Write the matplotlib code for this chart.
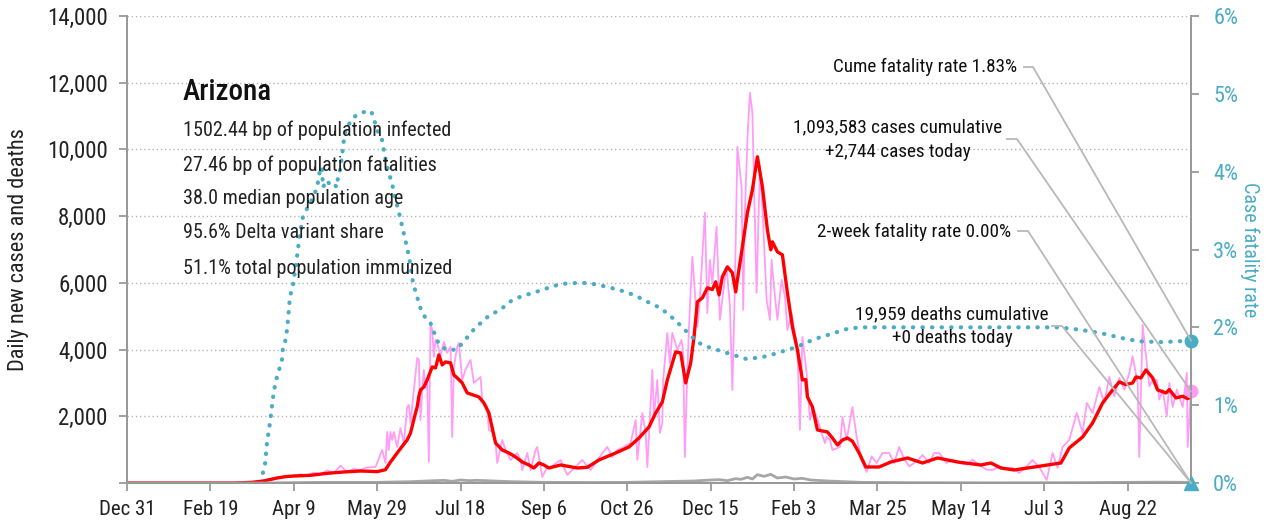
import numpy as np
import matplotlib
matplotlib.use("Agg")
import matplotlib.pyplot as plt
from matplotlib import font_manager
from matplotlib.lines import Line2D

# pick a narrow font if there is one
names = set(f.name for f in font_manager.fontManager.ttflist)
FONT = "DejaVu Sans"
for cand in ["Roboto Condensed", "Archivo Narrow", "PT Sans Narrow", "Barlow Semi Condensed",
             "Liberation Sans Narrow", "Open Sans Condensed"]:
    if cand in names:
        FONT = cand
        break
plt.rcParams["font.family"] = [FONT, "DejaVu Sans"]

W, H = 1268, 523
TEAL = "#4aacc5"
PINK = "#ff9cf5"
RED = "#ff0000"
GRAY = "#a6a6a6"

# days counted from Dec 31 2019
tick_days = [0, 50, 100, 150, 200, 250, 300, 350, 400, 450, 500, 550, 600]
tick_labels = ["Dec 31", "Feb 19", "Apr 9", "May 29", "Jul 18", "Sep 6", "Oct 26",
               "Dec 15", "Feb 3", "Mar 25", "May 14", "Jul 3", "Aug 22"]
last_day = 638

# daily new cases (day, cases)
cases = [(0, 0), (60, 0), (70, 5), (75, 20), (80, 60), (84, 110), (88, 150), (92, 170), (96, 220),
         (100, 200), (104, 260), (108, 230), (112, 310), (116, 260), (120, 380), (124, 300),
         (128, 520), (132, 330), (136, 420), (140, 390), (144, 470), (149, 480), (150, 600),
         (153, 990), (155, 600), (156, 1530), (157, 990), (158, 1530), (159, 1290), (160, 1530),
         (162, 1080), (164, 1650), (166, 1200), (168, 2280), (169, 2340), (170, 1800),
         (172, 2790), (174, 3750), (175, 3690), (176, 1890), (177, 2790), (178, 3390),
         (179, 2850), (180, 3090), (181, 630), (182, 4800), (183, 4590), (184, 3780),
         (185, 4290), (186, 4200), (188, 3800), (190, 4230), (192, 3900), (194, 4080),
         (195, 1380), (196, 3480), (198, 4080), (199, 4200), (201, 3090), (203, 3400),
         (206, 3690), (208, 3000), (212, 3180), (213, 2490), (216, 2280), (217, 1590),
         (219, 1530), (221, 1200), (222, 600), (225, 1290), (227, 990), (230, 690), (234, 900),
         (236, 690), (237, 390), (240, 900), (242, 390), (245, 990), (246, 1080), (249, 180),
         (252, 480), (254, 480), (260, 690), (264, 240), (273, 690), (278, 390), (282, 690),
         (288, 1080), (291, 780), (294, 990), (297, 1050), (302, 1200), (305, 1890), (306, 690),
         (309, 2100), (311, 1500), (312, 480), (315, 3390), (316, 2000), (318, 3090),
         (319.5, 1500), (321, 1800), (321.5, 3090), (324, 4500), (325.5, 3600), (327, 4500),
         (330, 3990), (332.5, 4290), (333.5, 3900), (334.5, 780), (336, 3390), (337.5, 5280),
         (339, 6780), (342, 4680), (343.5, 5520), (346.5, 8100), (348, 5100), (349.5, 6690),
         (351, 6000), (353.5, 7680), (355.5, 4890), (357, 5520), (359.5, 6480), (361.5, 5310),
         (363, 2790), (364.5, 5880), (366, 10080), (368.5, 8880), (369.5, 5190), (370.5, 8100),
         (372, 10290), (373.5, 11700), (375, 11100), (377.5, 5700), (379.5, 9480), (381, 8280),
         (383.5, 5520), (385.5, 4890), (386.5, 6690), (388.5, 5610), (390, 4890), (392.5, 6090),
         (394.5, 5580), (396, 4590), (398.5, 5100), (400.5, 4500), (402, 4080), (403.5, 1590),
         (405, 4380), (407.5, 3300), (409.5, 1890), (411, 2280), (413.5, 2000), (416.5, 1500),
         (418.5, 1200), (419.5, 1380), (421.5, 1290), (423, 990), (427.5, 1080), (429, 1980),
         (431.5, 1290), (435, 2280), (437.5, 1380), (440.5, 690), (443.5, 330), (446.5, 800),
         (449.5, 600), (453, 900), (457, 900), (460, 600), (463, 1080), (466, 720), (469, 500),
         (473.5, 650), (477, 840), (481, 600), (484, 900), (487, 900), (491.5, 600), (495, 700),
         (499, 600), (503.5, 550), (507, 700), (511, 540), (515.5, 400), (519, 390), (523, 500),
         (527.5, 420), (531, 460), (535, 300), (539.5, 500), (543, 690), (547, 480), (551.5, 90),
         (555, 900), (558, 450), (561, 1080), (565, 1290), (569.5, 2100), (573, 1500),
         (575.5, 2400), (579, 2100), (583, 2880), (586, 2400), (589, 3180), (592, 2600),
         (595, 3150), (598, 2800), (601, 3300), (603, 3800), (606, 3000), (607, 780),
         (609, 4740), (611.5, 3600), (613, 2900), (615, 3100), (617.5, 3090), (619, 2500),
         (621, 2790), (623.5, 2000), (625, 3000), (627, 2280), (629.5, 2800), (631, 2580),
         (633, 2280), (635.5, 3300), (636, 1080), (638, 2744)]

# 7-day average of cases
cases_avg = [(0, 0), (65, 0), (75, 20), (82, 60), (90, 150), (95, 190), (100, 210), (110, 230),
             (120, 290), (130, 330), (140, 360), (146, 350), (150, 340), (155, 400), (158, 630),
             (162, 900), (165, 1100), (168, 1290), (170, 1500), (171.5, 1800), (173, 2100),
             (174, 2280), (175, 2600), (176, 2790), (178, 2880), (180, 3090), (183, 3480),
             (185, 3450), (187, 3840), (189, 3540), (191, 3630), (194, 3600), (196, 3240),
             (198, 3150), (201, 3000), (204, 2700), (207, 2650), (211, 2580), (214, 2400),
             (217, 2100), (221, 1200), (225, 990), (229, 900), (233, 780), (237, 630), (241, 540),
             (244, 450), (247, 600), (250, 540), (253, 450), (260, 540), (270, 450), (276, 470),
             (283, 690), (293, 900), (301, 1080), (307, 1350), (313, 1680), (317, 2100),
             (321, 2430), (324, 3090), (327, 3600), (329, 3930), (332, 3900), (335, 3000),
             (338, 3600), (340, 4380), (342, 5430), (345, 5550), (348, 5850), (351, 5800),
             (353, 6030), (355, 5640), (357, 6180), (360, 6480), (363, 6300), (365, 5730),
             (366, 6090), (369, 7080), (372, 8100), (375, 8790), (378, 9780), (381, 8880),
             (384, 7590), (386, 6990), (387, 7230), (390, 6930), (393, 6840), (396, 5700),
             (399, 4680), (402, 3990), (405, 3090), (407, 3100), (408, 2580), (411, 2280),
             (414, 1590), (420, 1530), (423, 1350), (426, 1140), (429, 1290), (432, 1350),
             (435, 1250), (439, 900), (443, 480), (451, 480), (458, 630), (468, 750), (477, 600),
             (486, 750), (498, 630), (512, 540), (518, 600), (524, 450), (532, 390), (544, 480),
             (552, 540), (560, 600), (565, 1050), (573, 1380), (579, 1800), (585, 2400),
             (591, 2790), (595, 3030), (599, 2950), (603, 3000), (605, 3180), (608, 3150),
             (611, 3390), (615, 3150), (618, 2790), (623, 2700), (625, 2800), (629, 2550),
             (633, 2600), (636, 2530), (638, 2580)]

# daily deaths
deaths = [(0, 0), (80, 0), (100, 10), (120, 20), (150, 20), (170, 40), (180, 60), (190, 80),
          (195, 50), (200, 90), (205, 70), (210, 80), (220, 60), (230, 40), (250, 20), (280, 15),
          (300, 20), (320, 40), (340, 60), (350, 90), (355, 100), (360, 70), (365, 130),
          (368, 110), (372, 170), (375, 120), (378, 250), (382, 200), (386, 260), (390, 150),
          (395, 180), (400, 120), (405, 140), (410, 90), (420, 60), (430, 40), (440, 20),
          (470, 10), (520, 5), (570, 10), (600, 20), (620, 25), (637, 20), (638, 0)]

# case fatality rate, percent
cfr = [(81.5, 0.13), (82.7, 0.23), (83.9, 0.51), (85.7, 0.77), (86.9, 0.98), (87.5, 1.09),
       (88.7, 1.25), (89.9, 1.36), (91.7, 1.49), (92.9, 1.58), (93.5, 1.74), (94.7, 1.80),
       (95.9, 1.96), (96.5, 2.09), (97.7, 2.39), (99.5, 2.54), (101.9, 2.90), (103.7, 3.21),
       (105.5, 3.42), (108.5, 3.55), (110.9, 3.64), (113.9, 3.79), (115.7, 4.02), (116.9, 4.06),
       (117.5, 3.80), (119.9, 3.89), (121.7, 3.83), (123.5, 3.85), (125.9, 3.80), (126.5, 3.93),
       (127.7, 4.02), (128.9, 4.19), (129.5, 4.32), (130.7, 4.50), (131.9, 4.57), (133.7, 4.63),
       (135.5, 4.69), (137.9, 4.73), (139.7, 4.75), (142.7, 4.77), (144.5, 4.79), (146.9, 4.75),
       (148.7, 4.63), (150.5, 4.51), (152.9, 4.41), (154.7, 4.19), (156.5, 4.02), (158.9, 3.85),
       (160.7, 3.67), (163.7, 3.42), (165.5, 3.25), (167.9, 3.03), (169.7, 2.83), (171.5, 2.57),
       (174, 2.39), (175.7, 2.26), (177, 2.20), (178.7, 2.13), (181.7, 2.07), (183.5, 1.97),
       (186.5, 1.81), (188.8, 1.75), (191.8, 1.71), (194.8, 1.71), (198.4, 1.72), (200, 1.77),
       (204.4, 1.88), (208.6, 1.99), (213.4, 2.08), (217.6, 2.16), (223.6, 2.22), (229.6, 2.33),
       (235.6, 2.39), (242.8, 2.44), (250.6, 2.49), (253.6, 2.52), (261.5, 2.56), (269.9, 2.57),
       (276.5, 2.57), (283.7, 2.54), (291.5, 2.50), (299.9, 2.45), (306.5, 2.39), (313.7, 2.31),
       (319.7, 2.25), (323.9, 2.18), (328.7, 2.09), (333.5, 1.99), (337.7, 1.90), (341.9, 1.81),
       (347.9, 1.75), (353.9, 1.71), (359.9, 1.67), (365.9, 1.63), (371.9, 1.59), (377.9, 1.61),
       (383.9, 1.63), (389.9, 1.67), (395.9, 1.71), (401.9, 1.75), (407.9, 1.81), (413.9, 1.86),
       (419.9, 1.90), (425.9, 1.94), (431.9, 1.98), (439.6, 2.0), (451.6, 2.0), (463.6, 2.0),
       (480, 2.0), (520, 2.0), (559, 2.0), (571, 1.97), (583, 1.93), (597, 1.86), (607, 1.82),
       (621, 1.81), (638, 1.83)]

cume_cfr = 1.83
cases_today = 2744
deaths_today = 0
two_week_cfr = 0.0

info_title = "Arizona"
info_lines = ["1502.44 bp of population infected", "27.46 bp of population fatalities",
              "38.0 median population age", "95.6% Delta variant share",
              "51.1% total population immunized"]


def fpos(x, y):
    # pixel position in reference -> figure fraction
    return x / W, 1 - y / H


fig = plt.figure(figsize=(W / 100, H / 100), dpi=100)
ax = fig.add_axes([127 / W, 40 / H, (1191 - 127) / W, (483 - 16) / H])
ax2 = ax.twinx()

ax.plot(*zip(*cases), color=PINK, lw=1.3, zorder=2)
ax.plot(*zip(*cases_avg), color=RED, lw=2.4, zorder=3)
ax.plot(*zip(*deaths), color=GRAY, lw=2.0, zorder=3)
ax.plot([last_day], [cases_today], "o", color=PINK, ms=9, clip_on=False, zorder=6)

ax2.plot(*zip(*cfr), color=TEAL, lw=3, linestyle=(0, (0.1, 2.2)),
         dash_capstyle="round", zorder=4)
ax2.plot([last_day], [cume_cfr], "o", color=TEAL, ms=9, clip_on=False, zorder=6)
ax2.plot([last_day], [two_week_cfr], "^", color=TEAL, ms=10, clip_on=False, zorder=6)

ax.set_xlim(0, last_day)
ax.set_ylim(0, 14000)
ax2.set_ylim(0, 6)
ax.set_xticks(tick_days)
ax.set_xticklabels(tick_labels)
ax.set_yticks(range(0, 14001, 2000))
ax.set_yticklabels(["" if v == 0 else f"{v:,}" for v in range(0, 14001, 2000)])
ax2.set_yticks(range(0, 7))
ax2.set_yticklabels([f"{v}%" for v in range(0, 7)])

for v in range(2000, 14001, 2000):
    ax.axhline(v, color="#b5b5b5", lw=1, ls=(0, (1, 2)), zorder=1)

for a in (ax, ax2):
    a.spines["top"].set_visible(False)
    for s in ("left", "right", "bottom"):
        a.spines[s].set_color("#999999")
        a.spines[s].set_linewidth(1.4)
ax.tick_params(axis="both", colors="#999999", width=1.3, length=6, labelcolor="#222222")
ax.tick_params(axis="x", pad=6, labelsize=15)
ax.tick_params(axis="y", pad=8, labelsize=16.5)
ax2.tick_params(axis="y", colors="#999999", width=1.3, length=6, labelsize=16,
                labelcolor=TEAL, pad=10)

ax.set_ylabel("Daily new cases and deaths", fontsize=16, color="#222222", va="center")
ax.yaxis.set_label_coords(-0.1024, 0.5)
ax2.set_ylabel("Case fatality rate", fontsize=14.5, color=TEAL, rotation=270, va="center")
ax2.yaxis.set_label_coords(1.0555, 0.5)

# info block
fig.text(*fpos(183, 92), info_title, fontsize=21, va="center", ha="left", color="#111111",
         fontweight="medium")
for y, line in zip([130, 165, 199, 233, 268], info_lines):
    fig.text(*fpos(183, y), line, fontsize=14.5, va="center", ha="left", color="#222222")

# callouts with leader lines
fs = 13.8
fig.text(*fpos(1017, 67), f"Cume fatality rate {cume_cfr:.2f}%", fontsize=fs, ha="right",
         va="center", color="#111111")
fig.text(*fpos(898, 127), "1,093,583 cases cumulative", fontsize=fs, ha="center",
         va="center", color="#111111")
fig.text(*fpos(898, 152), f"+{cases_today:,} cases today", fontsize=fs, ha="center",
         va="center", color="#111111")
fig.text(*fpos(1011, 232), f"2-week fatality rate {two_week_cfr:.2f}%", fontsize=fs,
         ha="right", va="center", color="#111111")
fig.text(*fpos(952, 314), "19,959 deaths cumulative", fontsize=fs, ha="center",
         va="center", color="#111111")
fig.text(*fpos(952, 338), f"+{deaths_today} deaths today", fontsize=fs, ha="center",
         va="center", color="#111111")

inv = fig.transFigure.inverted()
targets = [
    ((1024, 67), (1033, 67), ax2.transData.transform((last_day, cume_cfr))),
    ((1007, 139), (1017, 139), ax.transData.transform((last_day, cases_today))),
    ((1018, 231), (1028, 231), ax2.transData.transform((last_day, two_week_cfr))),
    ((1052, 326), (1062, 326), ax.transData.transform((last_day, deaths_today))),
]
for p0, p1, tgt in targets:
    t = inv.transform(tgt)
    a0 = fpos(*p0)
    a1 = fpos(*p1)
    fig.add_artist(Line2D([a0[0], a1[0], t[0]], [a0[1], a1[1], t[1]], color="#b8b8b8",
                          lw=1.3, transform=fig.transFigure, zorder=5))

fig.savefig("out.png", dpi=100)
